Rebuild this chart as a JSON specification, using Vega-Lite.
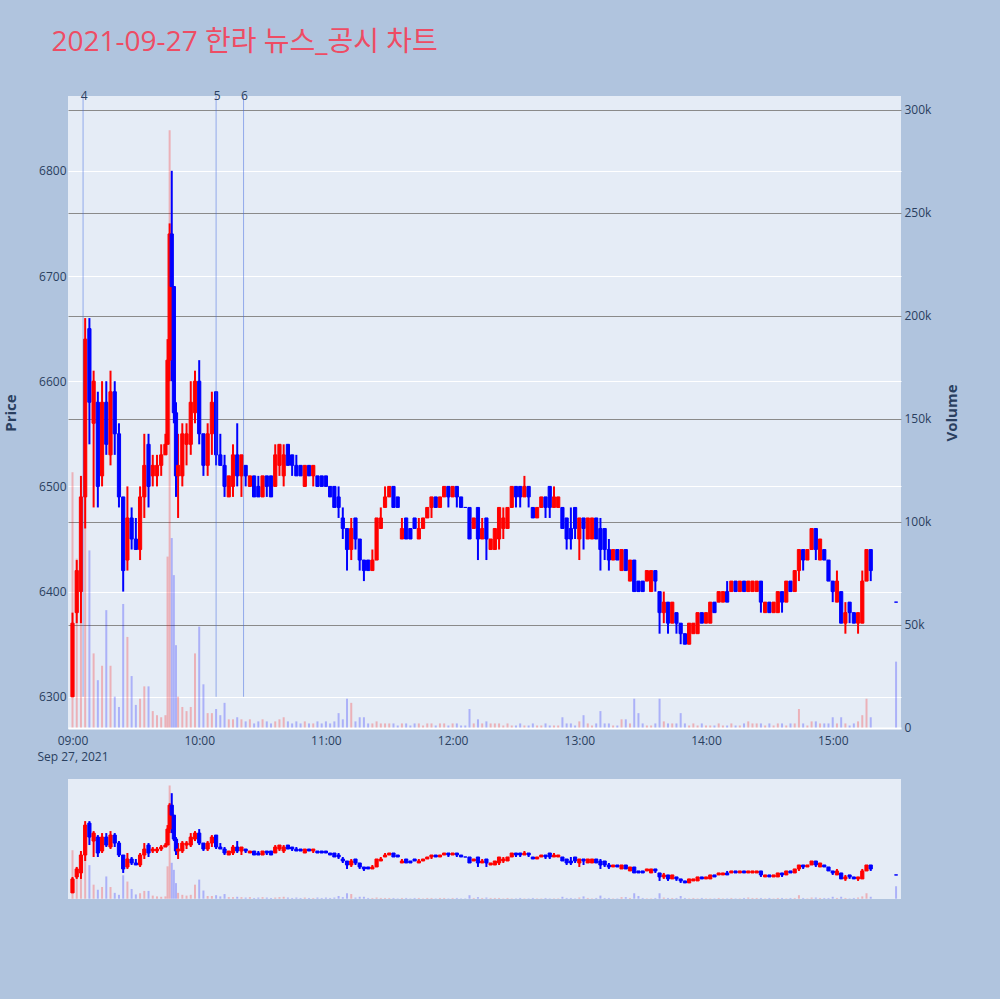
{
"$schema":"https://vega.github.io/schema/vega-lite/v6.json",
"background":"#B0C4DE",
"padding":{"left":3,"top":29,"right":40,"bottom":100},
"title":{"text":"2021-09-27 한라 뉴스_공시 차트","anchor":"start","frame":"bounds","font":"Open Sans, Noto Sans CJK KR","fontSize":28,"fontWeight":"normal","color":"#EE4C64","dx":48,"offset":33},
"config":{"view":{"stroke":null},"axis":{"domain":false,"ticks":false,"labelFont":"Open Sans","labelFontSize":12,"labelColor":"#2a3f5f","titleFont":"Open Sans","titleFontSize":15,"titleColor":"#2a3f5f","titleFontWeight":"bold"}},
"datasets":{
"ev":[{"t":"2021-09-27 09:05","n":"4"},{"t":"2021-09-27 10:08","n":"5"},{"t":"2021-09-27 10:21","n":"6"}],
"k":[
{"t":"2021-09-27 09:00","o":6300,"h":6380,"l":6300,"c":6370,"v":124000},
{"t":"2021-09-27 09:02","o":6380,"h":6430,"l":6370,"c":6420,"v":82000},
{"t":"2021-09-27 09:04","o":6400,"h":6510,"l":6370,"c":6490,"v":104000},
{"t":"2021-09-27 09:06","o":6490,"h":6660,"l":6460,"c":6640,"v":128000},
{"t":"2021-09-27 09:08","o":6650,"h":6660,"l":6540,"c":6580,"v":86000},
{"t":"2021-09-27 09:10","o":6560,"h":6610,"l":6480,"c":6600,"v":36000},
{"t":"2021-09-27 09:12","o":6580,"h":6590,"l":6480,"c":6500,"v":23000},
{"t":"2021-09-27 09:14","o":6510,"h":6600,"l":6500,"c":6580,"v":30000},
{"t":"2021-09-27 09:16","o":6580,"h":6600,"l":6530,"c":6540,"v":57000},
{"t":"2021-09-27 09:18","o":6530,"h":6610,"l":6520,"c":6590,"v":30000},
{"t":"2021-09-27 09:20","o":6590,"h":6600,"l":6530,"c":6550,"v":15000},
{"t":"2021-09-27 09:22","o":6550,"h":6560,"l":6480,"c":6490,"v":10000},
{"t":"2021-09-27 09:24","o":6490,"h":6490,"l":6400,"c":6420,"v":60000},
{"t":"2021-09-27 09:26","o":6430,"h":6500,"l":6420,"c":6470,"v":44000},
{"t":"2021-09-27 09:28","o":6470,"h":6480,"l":6440,"c":6450,"v":25000},
{"t":"2021-09-27 09:30","o":6450,"h":6470,"l":6440,"c":6440,"v":11000},
{"t":"2021-09-27 09:32","o":6440,"h":6500,"l":6430,"c":6490,"v":14000},
{"t":"2021-09-27 09:34","o":6490,"h":6550,"l":6470,"c":6520,"v":20000},
{"t":"2021-09-27 09:36","o":6540,"h":6550,"l":6480,"c":6500,"v":20000},
{"t":"2021-09-27 09:38","o":6510,"h":6530,"l":6500,"c":6520,"v":8000},
{"t":"2021-09-27 09:40","o":6510,"h":6530,"l":6500,"c":6520,"v":6000},
{"t":"2021-09-27 09:42","o":6520,"h":6540,"l":6510,"c":6530,"v":5000},
{"t":"2021-09-27 09:44","o":6530,"h":6550,"l":6530,"c":6540,"v":6000},
{"t":"2021-09-27 09:45","o":6540,"h":6640,"l":6540,"c":6620,"v":83000},
{"t":"2021-09-27 09:46","o":6620,"h":6750,"l":6600,"c":6740,"v":290000},
{"t":"2021-09-27 09:47","o":6740,"h":6800,"l":6600,"c":6690,"v":92000},
{"t":"2021-09-27 09:48","o":6690,"h":6690,"l":6560,"c":6570,"v":74000},
{"t":"2021-09-27 09:49","o":6570,"h":6580,"l":6490,"c":6510,"v":40000},
{"t":"2021-09-27 09:50","o":6510,"h":6550,"l":6470,"c":6520,"v":15000},
{"t":"2021-09-27 09:52","o":6510,"h":6560,"l":6500,"c":6550,"v":10000},
{"t":"2021-09-27 09:54","o":6540,"h":6560,"l":6520,"c":6550,"v":8000},
{"t":"2021-09-27 09:56","o":6540,"h":6600,"l":6530,"c":6580,"v":10000},
{"t":"2021-09-27 09:58","o":6570,"h":6610,"l":6560,"c":6600,"v":36000},
{"t":"2021-09-27 10:00","o":6600,"h":6620,"l":6540,"c":6550,"v":49000},
{"t":"2021-09-27 10:02","o":6550,"h":6550,"l":6510,"c":6520,"v":21000},
{"t":"2021-09-27 10:04","o":6520,"h":6560,"l":6510,"c":6550,"v":7000},
{"t":"2021-09-27 10:06","o":6550,"h":6590,"l":6530,"c":6580,"v":7000},
{"t":"2021-09-27 10:08","o":6590,"h":6590,"l":6520,"c":6530,"v":9000},
{"t":"2021-09-27 10:10","o":6530,"h":6550,"l":6520,"c":6520,"v":6000},
{"t":"2021-09-27 10:12","o":6520,"h":6530,"l":6490,"c":6500,"v":12000},
{"t":"2021-09-27 10:14","o":6490,"h":6510,"l":6490,"c":6510,"v":4000},
{"t":"2021-09-27 10:16","o":6500,"h":6540,"l":6490,"c":6530,"v":4000},
{"t":"2021-09-27 10:18","o":6530,"h":6560,"l":6500,"c":6510,"v":5000},
{"t":"2021-09-27 10:20","o":6510,"h":6530,"l":6490,"c":6530,"v":4000},
{"t":"2021-09-27 10:22","o":6520,"h":6520,"l":6500,"c":6510,"v":3000},
{"t":"2021-09-27 10:24","o":6500,"h":6510,"l":6500,"c":6510,"v":4000},
{"t":"2021-09-27 10:26","o":6510,"h":6510,"l":6490,"c":6490,"v":2000},
{"t":"2021-09-27 10:28","o":6500,"h":6510,"l":6490,"c":6490,"v":3000},
{"t":"2021-09-27 10:30","o":6490,"h":6510,"l":6490,"c":6510,"v":4000},
{"t":"2021-09-27 10:32","o":6510,"h":6510,"l":6490,"c":6500,"v":3000},
{"t":"2021-09-27 10:34","o":6510,"h":6510,"l":6490,"c":6490,"v":2000},
{"t":"2021-09-27 10:36","o":6500,"h":6540,"l":6500,"c":6530,"v":3000},
{"t":"2021-09-27 10:38","o":6520,"h":6540,"l":6510,"c":6540,"v":4000},
{"t":"2021-09-27 10:40","o":6510,"h":6540,"l":6500,"c":6530,"v":5000},
{"t":"2021-09-27 10:42","o":6540,"h":6540,"l":6520,"c":6520,"v":3000},
{"t":"2021-09-27 10:44","o":6530,"h":6530,"l":6510,"c":6520,"v":2000},
{"t":"2021-09-27 10:46","o":6520,"h":6530,"l":6510,"c":6510,"v":3000},
{"t":"2021-09-27 10:48","o":6520,"h":6520,"l":6510,"c":6510,"v":2000},
{"t":"2021-09-27 10:50","o":6500,"h":6520,"l":6500,"c":6520,"v":3000},
{"t":"2021-09-27 10:52","o":6520,"h":6520,"l":6510,"c":6510,"v":2000},
{"t":"2021-09-27 10:54","o":6510,"h":6520,"l":6500,"c":6520,"v":2000},
{"t":"2021-09-27 10:56","o":6510,"h":6510,"l":6500,"c":6500,"v":3000},
{"t":"2021-09-27 10:58","o":6510,"h":6510,"l":6500,"c":6500,"v":2000},
{"t":"2021-09-27 11:00","o":6510,"h":6510,"l":6500,"c":6500,"v":3000},
{"t":"2021-09-27 11:02","o":6500,"h":6500,"l":6490,"c":6490,"v":2000},
{"t":"2021-09-27 11:04","o":6500,"h":6500,"l":6480,"c":6480,"v":3000},
{"t":"2021-09-27 11:06","o":6490,"h":6500,"l":6470,"c":6480,"v":7000},
{"t":"2021-09-27 11:08","o":6470,"h":6480,"l":6450,"c":6460,"v":4000},
{"t":"2021-09-27 11:10","o":6460,"h":6460,"l":6420,"c":6440,"v":14000},
{"t":"2021-09-27 11:12","o":6440,"h":6470,"l":6430,"c":6460,"v":12000},
{"t":"2021-09-27 11:14","o":6470,"h":6470,"l":6440,"c":6450,"v":3000},
{"t":"2021-09-27 11:16","o":6450,"h":6450,"l":6420,"c":6430,"v":5000},
{"t":"2021-09-27 11:18","o":6430,"h":6430,"l":6410,"c":6420,"v":5000},
{"t":"2021-09-27 11:20","o":6430,"h":6430,"l":6420,"c":6420,"v":2000},
{"t":"2021-09-27 11:22","o":6420,"h":6440,"l":6420,"c":6430,"v":2000},
{"t":"2021-09-27 11:24","o":6430,"h":6470,"l":6430,"c":6470,"v":3000},
{"t":"2021-09-27 11:26","o":6460,"h":6480,"l":6460,"c":6470,"v":2000},
{"t":"2021-09-27 11:28","o":6480,"h":6500,"l":6480,"c":6490,"v":2000},
{"t":"2021-09-27 11:30","o":6490,"h":6500,"l":6490,"c":6500,"v":2000},
{"t":"2021-09-27 11:32","o":6500,"h":6500,"l":6480,"c":6480,"v":2000},
{"t":"2021-09-27 11:34","o":6490,"h":6490,"l":6480,"c":6480,"v":1000},
{"t":"2021-09-27 11:36","o":6450,"h":6470,"l":6450,"c":6460,"v":2000},
{"t":"2021-09-27 11:38","o":6470,"h":6470,"l":6450,"c":6450,"v":2000},
{"t":"2021-09-27 11:40","o":6460,"h":6460,"l":6450,"c":6450,"v":1000},
{"t":"2021-09-27 11:42","o":6470,"h":6470,"l":6460,"c":6460,"v":2000},
{"t":"2021-09-27 11:44","o":6450,"h":6470,"l":6450,"c":6460,"v":2000},
{"t":"2021-09-27 11:46","o":6460,"h":6470,"l":6460,"c":6470,"v":1000},
{"t":"2021-09-27 11:48","o":6470,"h":6480,"l":6470,"c":6480,"v":2000},
{"t":"2021-09-27 11:50","o":6480,"h":6490,"l":6470,"c":6490,"v":2000},
{"t":"2021-09-27 11:52","o":6490,"h":6490,"l":6480,"c":6480,"v":1000},
{"t":"2021-09-27 11:54","o":6480,"h":6490,"l":6480,"c":6490,"v":2000},
{"t":"2021-09-27 11:56","o":6490,"h":6500,"l":6490,"c":6500,"v":2000},
{"t":"2021-09-27 11:58","o":6500,"h":6500,"l":6480,"c":6490,"v":1000},
{"t":"2021-09-27 12:00","o":6490,"h":6500,"l":6490,"c":6500,"v":2000},
{"t":"2021-09-27 12:02","o":6500,"h":6500,"l":6480,"c":6490,"v":2000},
{"t":"2021-09-27 12:04","o":6490,"h":6490,"l":6480,"c":6480,"v":1000},
{"t":"2021-09-27 12:06","o":6480,"h":6480,"l":6480,"c":6480,"v":1000},
{"t":"2021-09-27 12:08","o":6480,"h":6480,"l":6450,"c":6450,"v":9000},
{"t":"2021-09-27 12:10","o":6460,"h":6470,"l":6460,"c":6470,"v":2000},
{"t":"2021-09-27 12:12","o":6480,"h":6480,"l":6430,"c":6450,"v":4000},
{"t":"2021-09-27 12:14","o":6450,"h":6470,"l":6450,"c":6460,"v":2000},
{"t":"2021-09-27 12:16","o":6470,"h":6470,"l":6430,"c":6450,"v":3000},
{"t":"2021-09-27 12:18","o":6440,"h":6450,"l":6440,"c":6450,"v":2000},
{"t":"2021-09-27 12:20","o":6440,"h":6460,"l":6440,"c":6460,"v":2000},
{"t":"2021-09-27 12:22","o":6450,"h":6480,"l":6440,"c":6480,"v":2000},
{"t":"2021-09-27 12:24","o":6460,"h":6480,"l":6450,"c":6470,"v":1000},
{"t":"2021-09-27 12:26","o":6460,"h":6480,"l":6460,"c":6480,"v":2000},
{"t":"2021-09-27 12:28","o":6480,"h":6500,"l":6480,"c":6500,"v":1000},
{"t":"2021-09-27 12:30","o":6500,"h":6500,"l":6480,"c":6490,"v":1000},
{"t":"2021-09-27 12:32","o":6500,"h":6500,"l":6480,"c":6490,"v":2000},
{"t":"2021-09-27 12:34","o":6490,"h":6510,"l":6490,"c":6500,"v":1000},
{"t":"2021-09-27 12:36","o":6500,"h":6500,"l":6480,"c":6490,"v":1000},
{"t":"2021-09-27 12:38","o":6480,"h":6480,"l":6470,"c":6470,"v":2000},
{"t":"2021-09-27 12:40","o":6470,"h":6480,"l":6470,"c":6480,"v":1000},
{"t":"2021-09-27 12:42","o":6480,"h":6490,"l":6480,"c":6490,"v":1000},
{"t":"2021-09-27 12:44","o":6490,"h":6490,"l":6470,"c":6480,"v":2000},
{"t":"2021-09-27 12:46","o":6500,"h":6500,"l":6470,"c":6480,"v":1000},
{"t":"2021-09-27 12:48","o":6480,"h":6500,"l":6480,"c":6490,"v":1000},
{"t":"2021-09-27 12:50","o":6480,"h":6490,"l":6480,"c":6490,"v":1000},
{"t":"2021-09-27 12:52","o":6480,"h":6480,"l":6460,"c":6460,"v":5000},
{"t":"2021-09-27 12:54","o":6470,"h":6470,"l":6440,"c":6450,"v":2000},
{"t":"2021-09-27 12:56","o":6460,"h":6480,"l":6440,"c":6450,"v":2000},
{"t":"2021-09-27 12:58","o":6480,"h":6480,"l":6450,"c":6460,"v":1000},
{"t":"2021-09-27 13:00","o":6450,"h":6470,"l":6430,"c":6470,"v":3000},
{"t":"2021-09-27 13:02","o":6470,"h":6470,"l":6440,"c":6460,"v":6000},
{"t":"2021-09-27 13:04","o":6450,"h":6470,"l":6450,"c":6470,"v":2000},
{"t":"2021-09-27 13:06","o":6450,"h":6470,"l":6450,"c":6470,"v":1000},
{"t":"2021-09-27 13:08","o":6470,"h":6470,"l":6450,"c":6450,"v":2000},
{"t":"2021-09-27 13:10","o":6460,"h":6470,"l":6420,"c":6440,"v":8000},
{"t":"2021-09-27 13:12","o":6460,"h":6460,"l":6430,"c":6440,"v":2000},
{"t":"2021-09-27 13:14","o":6440,"h":6450,"l":6420,"c":6430,"v":2000},
{"t":"2021-09-27 13:16","o":6430,"h":6440,"l":6430,"c":6440,"v":1000},
{"t":"2021-09-27 13:18","o":6440,"h":6440,"l":6430,"c":6430,"v":1000},
{"t":"2021-09-27 13:20","o":6420,"h":6440,"l":6420,"c":6440,"v":4000},
{"t":"2021-09-27 13:22","o":6440,"h":6440,"l":6420,"c":6420,"v":4000},
{"t":"2021-09-27 13:24","o":6410,"h":6430,"l":6410,"c":6430,"v":2000},
{"t":"2021-09-27 13:26","o":6430,"h":6430,"l":6400,"c":6400,"v":14000},
{"t":"2021-09-27 13:28","o":6410,"h":6410,"l":6400,"c":6400,"v":7000},
{"t":"2021-09-27 13:30","o":6410,"h":6410,"l":6400,"c":6400,"v":2000},
{"t":"2021-09-27 13:32","o":6410,"h":6420,"l":6410,"c":6420,"v":1000},
{"t":"2021-09-27 13:34","o":6400,"h":6420,"l":6400,"c":6420,"v":1000},
{"t":"2021-09-27 13:36","o":6420,"h":6420,"l":6400,"c":6410,"v":2000},
{"t":"2021-09-27 13:38","o":6400,"h":6400,"l":6360,"c":6380,"v":14000},
{"t":"2021-09-27 13:40","o":6380,"h":6400,"l":6370,"c":6390,"v":3000},
{"t":"2021-09-27 13:42","o":6390,"h":6390,"l":6360,"c":6370,"v":2000},
{"t":"2021-09-27 13:44","o":6370,"h":6390,"l":6370,"c":6390,"v":2000},
{"t":"2021-09-27 13:46","o":6380,"h":6380,"l":6360,"c":6370,"v":2000},
{"t":"2021-09-27 13:48","o":6370,"h":6370,"l":6350,"c":6360,"v":7000},
{"t":"2021-09-27 13:50","o":6360,"h":6360,"l":6350,"c":6350,"v":2000},
{"t":"2021-09-27 13:52","o":6350,"h":6370,"l":6350,"c":6370,"v":1000},
{"t":"2021-09-27 13:54","o":6360,"h":6370,"l":6360,"c":6370,"v":2000},
{"t":"2021-09-27 13:56","o":6360,"h":6380,"l":6360,"c":6380,"v":1000},
{"t":"2021-09-27 13:58","o":6380,"h":6380,"l":6370,"c":6370,"v":2000},
{"t":"2021-09-27 14:00","o":6370,"h":6380,"l":6370,"c":6380,"v":1000},
{"t":"2021-09-27 14:02","o":6370,"h":6390,"l":6370,"c":6390,"v":1000},
{"t":"2021-09-27 14:04","o":6390,"h":6390,"l":6380,"c":6380,"v":1000},
{"t":"2021-09-27 14:06","o":6390,"h":6400,"l":6390,"c":6400,"v":2000},
{"t":"2021-09-27 14:08","o":6390,"h":6400,"l":6390,"c":6400,"v":1000},
{"t":"2021-09-27 14:10","o":6400,"h":6410,"l":6390,"c":6390,"v":1000},
{"t":"2021-09-27 14:12","o":6400,"h":6410,"l":6400,"c":6410,"v":2000},
{"t":"2021-09-27 14:14","o":6410,"h":6410,"l":6400,"c":6400,"v":1000},
{"t":"2021-09-27 14:16","o":6400,"h":6410,"l":6400,"c":6410,"v":1000},
{"t":"2021-09-27 14:18","o":6410,"h":6410,"l":6400,"c":6400,"v":2000},
{"t":"2021-09-27 14:20","o":6400,"h":6410,"l":6400,"c":6410,"v":3000},
{"t":"2021-09-27 14:22","o":6400,"h":6410,"l":6400,"c":6410,"v":2000},
{"t":"2021-09-27 14:24","o":6400,"h":6410,"l":6400,"c":6410,"v":2000},
{"t":"2021-09-27 14:26","o":6410,"h":6410,"l":6380,"c":6390,"v":2000},
{"t":"2021-09-27 14:28","o":6380,"h":6390,"l":6380,"c":6390,"v":1000},
{"t":"2021-09-27 14:30","o":6390,"h":6390,"l":6380,"c":6380,"v":2000},
{"t":"2021-09-27 14:32","o":6380,"h":6390,"l":6380,"c":6390,"v":1000},
{"t":"2021-09-27 14:34","o":6380,"h":6400,"l":6380,"c":6400,"v":2000},
{"t":"2021-09-27 14:36","o":6400,"h":6400,"l":6380,"c":6390,"v":2000},
{"t":"2021-09-27 14:38","o":6390,"h":6410,"l":6390,"c":6410,"v":1000},
{"t":"2021-09-27 14:40","o":6410,"h":6410,"l":6400,"c":6400,"v":2000},
{"t":"2021-09-27 14:42","o":6400,"h":6420,"l":6400,"c":6420,"v":2000},
{"t":"2021-09-27 14:44","o":6420,"h":6440,"l":6410,"c":6440,"v":9000},
{"t":"2021-09-27 14:46","o":6440,"h":6440,"l":6420,"c":6430,"v":2000},
{"t":"2021-09-27 14:48","o":6430,"h":6440,"l":6430,"c":6440,"v":1000},
{"t":"2021-09-27 14:50","o":6440,"h":6460,"l":6440,"c":6460,"v":3000},
{"t":"2021-09-27 14:52","o":6460,"h":6460,"l":6430,"c":6440,"v":3000},
{"t":"2021-09-27 14:54","o":6430,"h":6450,"l":6430,"c":6450,"v":2000},
{"t":"2021-09-27 14:56","o":6440,"h":6440,"l":6430,"c":6430,"v":2000},
{"t":"2021-09-27 14:58","o":6430,"h":6430,"l":6410,"c":6410,"v":2000},
{"t":"2021-09-27 15:00","o":6410,"h":6410,"l":6390,"c":6400,"v":5000},
{"t":"2021-09-27 15:02","o":6390,"h":6420,"l":6390,"c":6410,"v":2000},
{"t":"2021-09-27 15:04","o":6400,"h":6400,"l":6370,"c":6370,"v":5000},
{"t":"2021-09-27 15:06","o":6370,"h":6390,"l":6360,"c":6380,"v":2000},
{"t":"2021-09-27 15:08","o":6390,"h":6390,"l":6370,"c":6380,"v":1000},
{"t":"2021-09-27 15:10","o":6380,"h":6380,"l":6370,"c":6370,"v":2000},
{"t":"2021-09-27 15:12","o":6370,"h":6380,"l":6360,"c":6380,"v":3000},
{"t":"2021-09-27 15:14","o":6370,"h":6420,"l":6370,"c":6410,"v":6000},
{"t":"2021-09-27 15:16","o":6410,"h":6440,"l":6410,"c":6440,"v":14000},
{"t":"2021-09-27 15:18","o":6440,"h":6440,"l":6410,"c":6420,"v":5000},
{"t":"2021-09-27 15:30","o":6390,"h":6390,"l":6390,"c":6390,"v":32000}
]},
"spacing":50,
"bounds":"flush",
"vconcat":[
{
"width":833,"height":633,
"view":{"fill":"#E5ECF6","stroke":null},
"resolve":{"scale":{"y":"independent"}},
"layer":[
{
"data":{"name":"k"},
"mark":{"type":"bar","size":2,"opacity":0.25},
"encoding":{
"x":{"field":"t","type":"temporal","title":null,"scale":{"nice":false,"padding":0,"domain":[{"year":2021,"month":9,"date":27,"hours":8,"minutes":57,"seconds":52},{"year":2021,"month":9,"date":27,"hours":15,"minutes":32,"seconds":20}]},
"axis":{"grid":false,"labelFlush":false,"labelPadding":6,"labelLineHeight":16,"labelBaseline":"top","values":[{"year":2021,"month":9,"date":27,"hours":9},{"year":2021,"month":9,"date":27,"hours":10},{"year":2021,"month":9,"date":27,"hours":11},{"year":2021,"month":9,"date":27,"hours":12},{"year":2021,"month":9,"date":27,"hours":13},{"year":2021,"month":9,"date":27,"hours":14},{"year":2021,"month":9,"date":27,"hours":15}],
"labelExpr":"hours(datum.value) == 9 ? ['09:00', 'Sep 27, 2021'] : timeFormat(datum.value, '%H:%M')"}},
"y":{"field":"v","type":"quantitative","title":"Volume","scale":{"nice":false,"zero":false,"domain":[-700,306600]},
"axis":{"orient":"right","grid":true,"titleAngle":270,"labelPadding":3,"titlePadding":29,"values":[0,50000,100000,150000,200000,250000,300000],
"labelExpr":"datum.value == 0 ? '0' : (datum.value/1000) + 'k'",
"gridColor":{"condition":{"test":"datum.value === 0","value":"#ffffff"},"value":"#8a8a8a"},
"gridWidth":{"condition":{"test":"datum.value === 0","value":2},"value":1}}},
"color":{"condition":{"test":"datum.c > datum.o","value":"#ff0000"},"value":"#0000ff"}
}
},
{
"layer":[
{
"data":{"name":"k"},
"mark":{"type":"rule","strokeWidth":2},
"encoding":{
"x":{"field":"t","type":"temporal","title":null},
"y":{"field":"l","type":"quantitative","title":"Price","scale":{"nice":false,"zero":false,"domain":[6269.4,6871.1]},
"axis":{"orient":"left","grid":true,"values":[6300,6400,6500,6600,6700,6800],"format":"d","gridColor":"#ffffff","gridWidth":1,"labelPadding":2,"titlePadding":20}},
"y2":{"field":"h"},
"color":{"condition":{"test":"datum.c > datum.o","value":"#ff0000"},"value":"#0000ff"}
}
},
{
"data":{"name":"k"},
"mark":{"type":"bar","size":3.2,"strokeWidth":1},
"encoding":{
"x":{"field":"t","type":"temporal","title":null},
"y":{"field":"o","type":"quantitative","title":"Price"},
"y2":{"field":"c"},
"color":{"condition":{"test":"datum.c > datum.o","value":"#ff0000"},"value":"#0000ff"},
"stroke":{"condition":{"test":"datum.c > datum.o","value":"#ff0000"},"value":"#0000ff"}
}
},
{
"data":{"name":"ev"},
"mark":{"type":"rule","color":"#4169E1","opacity":0.5,"strokeWidth":1},
"encoding":{
"x":{"field":"t","type":"temporal","title":null},
"y":{"datum":6300},
"y2":{"datum":6871.1}
}
},
{
"data":{"name":"ev"},
"mark":{"type":"text","font":"Open Sans","fontSize":12,"color":"#2a3f5f","baseline":"middle","dx":1},
"encoding":{
"x":{"field":"t","type":"temporal","title":null},
"y":{"datum":6871.1},
"text":{"field":"n"}
}
}
]
}
]
},
{
"width":833,"height":120,
"view":{"fill":"#E5ECF6","stroke":null},
"resolve":{"scale":{"y":"independent"}},
"layer":[
{
"data":{"name":"k"},
"mark":{"type":"bar","size":2,"opacity":0.25},
"encoding":{
"x":{"field":"t","type":"temporal","axis":null,"scale":{"nice":false,"padding":0,"domain":[{"year":2021,"month":9,"date":27,"hours":8,"minutes":57,"seconds":52},{"year":2021,"month":9,"date":27,"hours":15,"minutes":32,"seconds":20}]}},
"y":{"field":"v","type":"quantitative","axis":null,"scale":{"nice":false,"zero":false,"domain":[-700,306600]}},
"color":{"condition":{"test":"datum.c > datum.o","value":"#ff0000"},"value":"#0000ff"}
}
},
{
"layer":[
{
"data":{"name":"k"},
"mark":{"type":"rule","strokeWidth":2},
"encoding":{
"x":{"field":"t","type":"temporal","axis":null},
"y":{"field":"l","type":"quantitative","axis":null,"scale":{"nice":false,"zero":false,"domain":[6269.4,6871.1]}},
"y2":{"field":"h"},
"color":{"condition":{"test":"datum.c > datum.o","value":"#ff0000"},"value":"#0000ff"}
}
},
{
"data":{"name":"k"},
"mark":{"type":"bar","size":3.2,"strokeWidth":1},
"encoding":{
"x":{"field":"t","type":"temporal","axis":null},
"y":{"field":"o","type":"quantitative","axis":null},
"y2":{"field":"c"},
"color":{"condition":{"test":"datum.c > datum.o","value":"#ff0000"},"value":"#0000ff"},
"stroke":{"condition":{"test":"datum.c > datum.o","value":"#ff0000"},"value":"#0000ff"}
}
}
]
}
]
}
]
}
